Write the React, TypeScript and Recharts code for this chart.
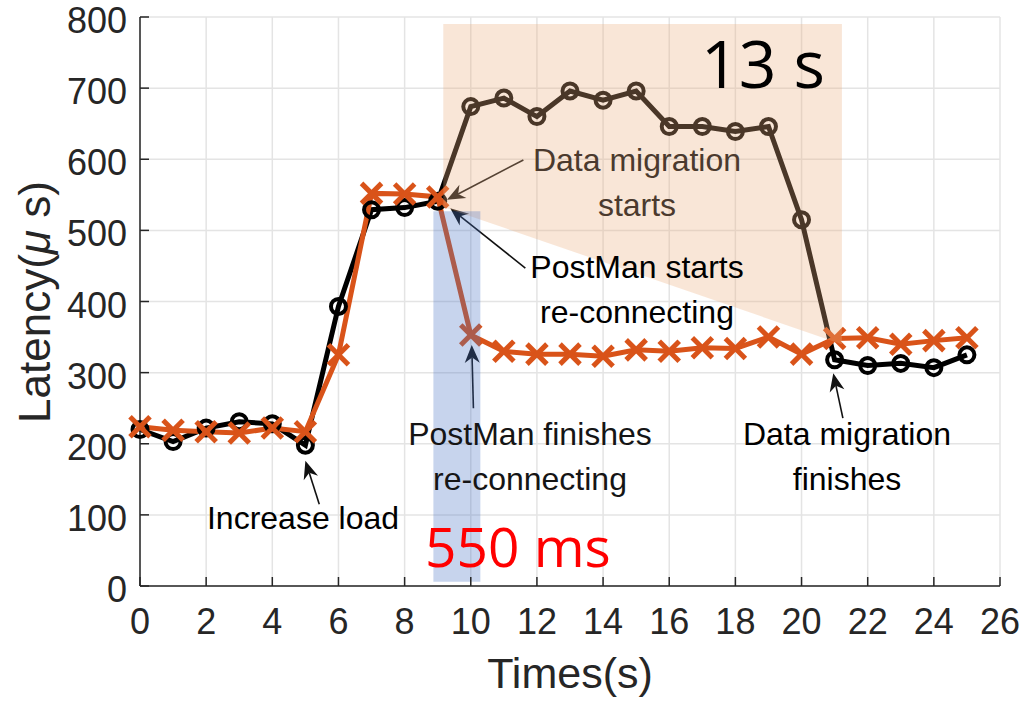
import React from 'react';
import { ComposedChart, Line, XAxis, YAxis, CartesianGrid, ReferenceArea, ReferenceLine } from 'recharts';

// seconds since start
const times = [0, 1, 2, 3, 4, 5, 6, 7, 8, 9, 10, 11, 12, 13, 14, 15, 16, 17, 18, 19, 20, 21, 22, 23, 24, 25];
// baseline (no PostMan) latency, us
const baselineLatency = [220, 203, 222, 231, 228, 198, 393, 529, 532, 541, 674, 686, 660, 696, 683, 696, 646, 646, 639, 646, 515, 318, 310, 313, 307, 325];
// PostMan latency, us
const postmanLatency = [224, 219, 217, 215, 222, 217, 325, 552, 551, 547, 353, 330, 326, 326, 323, 332, 330, 335, 334, 350, 326, 348, 349, 340, 345, 349];

const xTicks = [0, 2, 4, 6, 8, 10, 12, 14, 16, 18, 20, 22, 24, 26];
const yTicks = [0, 100, 200, 300, 400, 500, 600, 700, 800];

// shaded windows, in data units
const migrationWindow = { start: 9.17, end: 21.22, top: 790, bottomStart: 533, bottomEnd: 340 };
const reconnectWindow = { start: 8.87, end: 10.29, bottom: 6, top: 527 };

// arrows: tail -> head, data units
const arrows = [
  { from: { x: 5.42, y: 115 }, to: { x: 5.0, y: 176 } },
  { from: { x: 11.59, y: 599 }, to: { x: 9.28, y: 543 } },
  { from: { x: 11.65, y: 447 }, to: { x: 9.38, y: 531 } },
  { from: { x: 10.08, y: 250 }, to: { x: 10.03, y: 339 } },
  { from: { x: 21.25, y: 236 }, to: { x: 20.96, y: 299 } },
];

const notes = [
  { lines: ['Increase load'], x: 303, y: 529, color: '#000' },
  { lines: ['Data migration', 'starts'], x: 637, y: 171, color: '#4b3a2e' },
  { lines: ['PostMan starts', 're-connecting'], x: 637, y: 278, color: '#000' },
  { lines: ['PostMan finishes', 're-connecting'], x: 530, y: 445, color: '#151515' },
  { lines: ['Data migration', 'finishes'], x: 847, y: 445, color: '#000' },
];

const rows = times.map((t, i) => ({ t, base: baselineLatency[i], postman: postmanLatency[i] }));

const FONT = '"Liberation Sans", Arial, Helvetica, sans-serif';
const AXIS = '#262626';
const BLACK = '#000000';
const ORANGE = '#D95319';

const BottomTick = (props: any) => {
  const { x, y, payload } = props;
  return (
    <g>
      <line x1={x} x2={x} y1={y} y2={y - 9} stroke={AXIS} strokeWidth={1.5} />
      <text x={x} y={y + 48} textAnchor="middle" fontSize={36} fontFamily={FONT} fill={AXIS}>
        {payload.value}
      </text>
    </g>
  );
};

const TopTick = (props: any) => {
  const { x, y } = props;
  return <line x1={x} x2={x} y1={y} y2={y + 9} stroke={AXIS} strokeWidth={1.5} />;
};

const LeftTick = (props: any) => {
  const { x, y, payload } = props;
  return (
    <g>
      <line x1={x} x2={x + 9} y1={y} y2={y} stroke={AXIS} strokeWidth={1.5} />
      <text x={x - 13} y={y + 16} textAnchor="end" fontSize={36} fontFamily={FONT} fill={AXIS}>
        {payload.value}
      </text>
    </g>
  );
};

const RightTick = (props: any) => {
  const { x, y } = props;
  return <line x1={x} x2={x - 9} y1={y} y2={y} stroke={AXIS} strokeWidth={1.5} />;
};

const CircleDot = (props: any) => {
  const { cx, cy, index } = props;
  if (cx == null || cy == null) return <g key={index} />;
  return <circle key={index} cx={cx} cy={cy} r={7.5} fill="none" stroke={BLACK} strokeWidth={4} />;
};

const CrossDot = (props: any) => {
  const { cx, cy, index } = props;
  if (cx == null || cy == null) return <g key={index} />;
  const s = 10;
  return (
    <g key={index} stroke={ORANGE} strokeWidth={5}>
      <line x1={cx - s} y1={cy - s} x2={cx + s} y2={cy + s} />
      <line x1={cx - s} y1={cy + s} x2={cx + s} y2={cy - s} />
    </g>
  );
};

const Arrow = (props: any) => {
  const { x1, y1, x2, y2 } = props;
  const a = Math.atan2(y2 - y1, x2 - x1);
  const c = Math.cos(a);
  const s = Math.sin(a);
  const len = 18;
  const half = 7.5;
  const bx = x2 - len * c;
  const by = y2 - len * s;
  const nx = x2 - len * 0.7 * c;
  const ny = y2 - len * 0.7 * s;
  return (
    <g>
      <line x1={x1} y1={y1} x2={nx} y2={ny} stroke="#111" strokeWidth={1.6} />
      <polygon
        points={`${x2},${y2} ${bx - half * s},${by + half * c} ${nx},${ny} ${bx + half * s},${by - half * c}`}
        fill="#111"
      />
    </g>
  );
};

const MigrationShape = (props: any) => {
  const { x, y, width, height } = props;
  const m = migrationWindow;
  const leftBottom = y + (height * (m.top - m.bottomStart)) / (m.top - m.bottomEnd);
  return (
    <polygon
      points={`${x},${y} ${x + width},${y} ${x + width},${y + height} ${x},${leftBottom}`}
      fill="rgb(235,175,127)"
      fillOpacity={0.315}
    />
  );
};

export default function App() {
  return (
    <div style={{ position: 'absolute', left: 0, top: 0, width: 1025, height: 701, background: '#fff' }}>
      <ComposedChart
        width={1025}
        height={701}
        data={rows}
        margin={{ top: 17, right: 25, left: 0, bottom: 0 }}
      >
        <CartesianGrid stroke="#e4e4e4" strokeWidth={1.5} />
        <XAxis
          dataKey="t"
          type="number"
          domain={[0, 26]}
          ticks={xTicks}
          height={115}
          tickSize={0}
          tickMargin={0}
          tickLine={false}
          tick={<BottomTick />}
          axisLine={{ stroke: AXIS, strokeWidth: 1.5 }}
          interval={0}
        />
        <XAxis
          xAxisId="top"
          orientation="top"
          dataKey="t"
          type="number"
          domain={[0, 26]}
          ticks={xTicks}
          height={0}
          tickSize={0}
          tickMargin={0}
          tickLine={false}
          tick={<TopTick />}
          axisLine={{ stroke: AXIS, strokeWidth: 1.5 }}
          interval={0}
        />
        <YAxis
          type="number"
          domain={[0, 800]}
          ticks={yTicks}
          width={140}
          tickSize={0}
          tickMargin={0}
          tickLine={false}
          tick={<LeftTick />}
          axisLine={{ stroke: AXIS, strokeWidth: 1.5 }}
          interval={0}
        />
        <YAxis
          yAxisId="right"
          orientation="right"
          type="number"
          domain={[0, 800]}
          ticks={yTicks}
          width={0}
          tickSize={0}
          tickMargin={0}
          tickLine={false}
          tick={<RightTick />}
          axisLine={{ stroke: AXIS, strokeWidth: 1.5 }}
          interval={0}
        />
        <Line
          type="linear"
          dataKey="base"
          stroke={BLACK}
          strokeWidth={5}
          dot={CircleDot}
          activeDot={false}
          isAnimationActive={false}
        />
        <Line
          type="linear"
          dataKey="postman"
          stroke={ORANGE}
          strokeWidth={5}
          dot={CrossDot}
          activeDot={false}
          isAnimationActive={false}
        />
        {arrows.map((a, i) => (
          <ReferenceLine
            key={`arrow-${i}`}
            segment={[a.from, a.to]}
            shape={(p: any) => <Arrow {...p} />}
            zIndex={900}
          />
        ))}
        <ReferenceArea
          x1={migrationWindow.start}
          x2={migrationWindow.end}
          y1={migrationWindow.bottomEnd}
          y2={migrationWindow.top}
          shape={(p: any) => <MigrationShape {...p} />}
          zIndex={1000}
        />
        <ReferenceArea
          x1={reconnectWindow.start}
          x2={reconnectWindow.end}
          y1={reconnectWindow.bottom}
          y2={reconnectWindow.top}
          fill="rgb(68,114,196)"
          fillOpacity={0.3}
          stroke="none"
          zIndex={1000}
        />
      </ComposedChart>
      <svg
        width={1025}
        height={701}
        style={{ position: 'absolute', left: 0, top: 0, pointerEvents: 'none' }}
      >
        {notes.map((n, i) => (
          <text key={i} x={n.x} y={n.y} textAnchor="middle" fontSize={32} fontFamily={FONT} fill={n.color}>
            {n.lines.map((l, j) => (
              <tspan key={j} x={n.x} dy={j === 0 ? 0 : 45}>
                {l}
              </tspan>
            ))}
          </text>
        ))}
        <text x={570} y={688} textAnchor="middle" fontSize={43} fontFamily={FONT} fill={AXIS}>
          Times(s)
        </text>
        <text
          x={50}
          y={302}
          textAnchor="middle"
          fontSize={44}
          fontFamily={FONT}
          fill={AXIS}
          transform="rotate(-90 50 302)"
        >
          Latency(<tspan fontStyle="italic">μ</tspan> s)
        </text>
        <text x={701} y={88} fontSize={66} fontFamily='"Open Sans", sans-serif' fill="#000">
          13 s
        </text>
        <text x={425} y={567} fontSize={55} fontFamily='"Open Sans", sans-serif' fill="#ff0000">
          550 ms
        </text>
      </svg>
    </div>
  );
}
